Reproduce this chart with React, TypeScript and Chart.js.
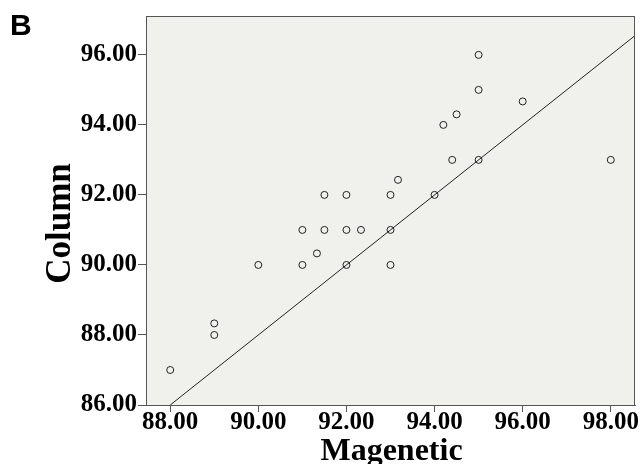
import React, { useEffect, useRef } from "react";
import { Chart, registerables } from "chart.js";

Chart.register(...registerables);

// Data
const magenetic = [
  88, 89, 89, 90, 91, 91, 91.33, 91.5, 92, 92, 92.33, 93, 93,
  91.5, 92, 93, 95, 95, 96, 94.5, 94.2, 94.4, 95, 98, 93.17, 94,
];
const column = [
  87, 88, 88.33, 90, 90, 91, 90.33, 91, 91, 90, 91, 91, 90,
  92, 92, 92, 96, 95, 94.67, 94.3, 94, 93, 93, 93, 92.43, 92,
];
const xTicks = [88, 90, 92, 94, 96, 98];
const yTicks = [86, 88, 90, 92, 94, 96];
const xRange = [87.45, 98.55];
const yRange = [86, 97.11];
const fitSlope = 1;
const fitIntercept = -2;
const panelLabel = "B";
const xTitle = "Magenetic";
const yTitle = "Column";

const SERIF = "'Liberation Serif', 'Times New Roman', serif";
const SANS = "'Liberation Sans', Arial, sans-serif";
const AXIS = "#555555";

export default function App() {
  const ref = useRef<HTMLCanvasElement | null>(null);

  useEffect(() => {
    if (!ref.current) return;
    const points = magenetic.map((x, i) => ({ x, y: column[i] }));
    const lineStartX = (yRange[0] - fitIntercept) / fitSlope;
    const lineEndX = xRange[1];
    const fitLine = [
      { x: lineStartX, y: fitSlope * lineStartX + fitIntercept },
      { x: lineEndX, y: fitSlope * lineEndX + fitIntercept },
    ];

    const framePlugin = {
      id: "frame",
      beforeDraw(chart: any) {
        const { ctx, chartArea: a } = chart;
        ctx.save();
        ctx.fillStyle = "#F0F0EC";
        ctx.fillRect(a.left, a.top, a.right - a.left, a.bottom - a.top);
        ctx.restore();
      },
      afterDraw(chart: any) {
        const { ctx, chartArea: a } = chart;
        ctx.save();
        ctx.strokeStyle = AXIS;
        ctx.lineWidth = 1;
        ctx.strokeRect(a.left + 0.5, a.top + 0.5, a.right - a.left - 1, a.bottom - a.top);
        // panel label
        ctx.fillStyle = "#000";
        ctx.font = `bold 30px ${SANS}`;
        ctx.textAlign = "left";
        ctx.textBaseline = "alphabetic";
        ctx.fillText(panelLabel, 10, 35);
        // axis titles
        ctx.font = `bold 35px ${SERIF}`;
        ctx.textAlign = "center";
        ctx.save();
        ctx.translate(70, 223.5);
        ctx.rotate(-Math.PI / 2);
        ctx.fillText(yTitle, 0, 0);
        ctx.restore();
        ctx.font = `bold 32px ${SERIF}`;
        ctx.fillText(xTitle, (a.left + a.right) / 2 + 1, 460);
        ctx.restore();
      },
    };

    const chart = new Chart(ref.current, {
      type: "scatter",
      data: {
        datasets: [
          {
            type: "scatter",
            data: points,
            pointRadius: 3.5,
            pointHoverRadius: 3.5,
            pointBorderWidth: 1,
            borderColor: "#222222",
            backgroundColor: "rgba(0,0,0,0)",
          },
          {
            type: "line",
            data: fitLine,
            borderColor: "#222222",
            borderWidth: 1,
            pointRadius: 0,
            fill: false,
          } as any,
        ],
      },
      options: {
        animation: false,
        responsive: false,
        events: [],
        layout: { padding: { left: 0, top: 16, right: 9, bottom: 0 } },
        plugins: {
          legend: { display: false },
          tooltip: { enabled: false },
          title: { display: false },
        },
        scales: {
          x: {
            type: "linear",
            min: xRange[0],
            max: xRange[1],
            afterFit(scale: any) {
              scale.height = 59;
            },
            afterBuildTicks(scale: any) {
              scale.ticks = xTicks.map((v) => ({ value: v }));
            },
            grid: {
              drawOnChartArea: false,
              drawTicks: true,
              tickLength: 7,
              color: AXIS,
            },
            border: { display: true, color: AXIS },
            ticks: {
              padding: -2,
              color: "#000",
              font: { family: SERIF, size: 25, weight: "bold", lineHeight: 1 },
              callback: (v: any) => Number(v).toFixed(2),
              maxRotation: 0,
              autoSkip: false,
            },
          },
          y: {
            type: "linear",
            min: yRange[0],
            max: yRange[1],
            afterFit(scale: any) {
              scale.width = 146;
            },
            afterBuildTicks(scale: any) {
              scale.ticks = yTicks.map((v) => ({ value: v }));
            },
            grid: {
              drawOnChartArea: false,
              drawTicks: true,
              tickLength: 8,
              color: AXIS,
            },
            border: { display: true, color: AXIS },
            ticks: {
              padding: 1,
              color: "#000",
              font: { family: SERIF, size: 25, weight: "bold", lineHeight: 1 },
              callback: (v: any) => Number(v).toFixed(2),
              autoSkip: false,
            },
          },
        },
      },
      plugins: [framePlugin],
    });
    return () => chart.destroy();
  }, []);

  return (
    <div style={{ position: "fixed", left: 0, top: 0, width: 644, height: 464, background: "#fff" }}>
      <canvas ref={ref} width={644} height={464} style={{ display: "block" }} />
    </div>
  );
}
